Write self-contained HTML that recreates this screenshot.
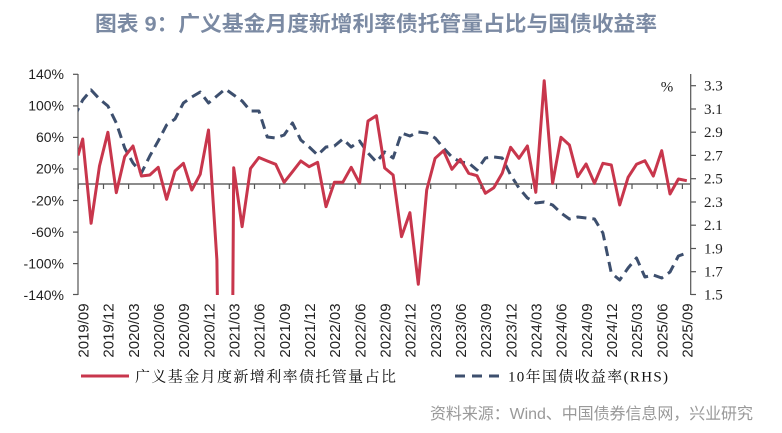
<!DOCTYPE html>
<html><head><meta charset="utf-8">
<style>
html,body{margin:0;padding:0;background:#fff;}
body{width:782px;height:433px;overflow:hidden;position:relative;}
svg{position:absolute;left:0;top:0;}
</style></head>
<body>
<svg width="782" height="433" viewBox="0 0 782 433" xmlns="http://www.w3.org/2000/svg">
<rect width="782" height="433" fill="#fff"/>
<text x="95" y="31" font-family="'Liberation Sans','Noto Sans CJK SC',sans-serif" font-size="21" font-weight="bold" fill="#7B8AA3" textLength="562" lengthAdjust="spacingAndGlyphs">图表 9：广义基金月度新增利率债托管量占比与国债收益率</text>
<defs><clipPath id="pc"><rect x="78" y="73" width="613" height="222"/></clipPath></defs>
<!-- left axis -->
<g stroke="#555" stroke-width="1.2" fill="none">
<line x1="78" y1="74" x2="78" y2="295"/>
<line x1="73" y1="74.3" x2="78" y2="74.3"/>
<line x1="73" y1="105.9" x2="78" y2="105.9"/>
<line x1="73" y1="137.4" x2="78" y2="137.4"/>
<line x1="73" y1="169" x2="78" y2="169"/>
<line x1="73" y1="200.5" x2="78" y2="200.5"/>
<line x1="73" y1="232.1" x2="78" y2="232.1"/>
<line x1="73" y1="263.6" x2="78" y2="263.6"/>
<line x1="73" y1="294.5" x2="78" y2="294.5"/>
<!-- right axis -->
<line x1="690.7" y1="74" x2="690.7" y2="295"/>
<line x1="691" y1="85.7" x2="696" y2="85.7"/>
<line x1="691" y1="109" x2="696" y2="109"/>
<line x1="691" y1="132.2" x2="696" y2="132.2"/>
<line x1="691" y1="155.4" x2="696" y2="155.4"/>
<line x1="691" y1="178.7" x2="696" y2="178.7"/>
<line x1="691" y1="202" x2="696" y2="202"/>
<line x1="691" y1="225.2" x2="696" y2="225.2"/>
<line x1="691" y1="248.5" x2="696" y2="248.5"/>
<line x1="691" y1="271.7" x2="696" y2="271.7"/>
<line x1="691" y1="294.5" x2="696" y2="294.5"/>
</g>
<g font-family="'Liberation Sans',sans-serif" font-size="14" fill="#222" text-anchor="end">
<text x="64" y="79">140%</text>
<text x="64" y="110.6">100%</text>
<text x="64" y="142.1">60%</text>
<text x="64" y="173.7">20%</text>
<text x="64" y="205.3">-20%</text>
<text x="64" y="236.9">-60%</text>
<text x="64" y="268.4">-100%</text>
<text x="64" y="300">-140%</text>
</g>
<g font-family="'Liberation Serif',serif" font-size="15" fill="#222">
<text x="704" y="90.7">3.3</text>
<text x="704" y="114">3.1</text>
<text x="704" y="137.2">2.9</text>
<text x="704" y="160.4">2.7</text>
<text x="704" y="183.7">2.5</text>
<text x="704" y="207">2.3</text>
<text x="704" y="230.2">2.1</text>
<text x="704" y="253.5">1.9</text>
<text x="704" y="276.7">1.7</text>
<text x="704" y="299.5">1.5</text>
<text x="667" y="91.5" text-anchor="middle">%</text>
</g>
<!-- series -->
<g clip-path="url(#pc)" fill="none" stroke-linejoin="round">
<polyline stroke="#3D4F6E" stroke-width="3" stroke-dasharray="10 6" points="74.3,117 82.7,100 91.1,90 99.5,99 107.9,106 116.3,123 124.7,148 133.0,163 141.4,173 149.8,156 158.2,141 166.6,125 175.0,119 183.4,103 191.8,97 200.2,92 208.5,103 216.9,96 225.3,89 233.7,95 242.1,101 250.5,111 258.9,111 267.3,137 275.7,138 284.1,135 292.5,123 300.8,140 309.2,147 317.6,155 326.0,147 334.4,146 342.8,139 351.2,147 359.6,141 368.0,153 376.4,162 384.7,152 393.1,158 401.5,133 409.9,136 418.3,132 426.7,133 435.1,138 443.5,148 451.9,157 460.3,162 468.7,163 477.0,170 485.4,158 493.8,157 502.2,158 510.6,175 519.0,188 527.4,198 535.8,203 544.2,202 552.6,205 561.0,213 569.4,219 577.7,217 586.1,218 594.5,219 602.9,233 611.3,273 619.7,280 628.1,268 636.5,258 644.9,277 653.3,275 661.7,278 670.0,272 678.4,256 686.8,253"/>
<line x1="78" y1="184" x2="691" y2="184" stroke="#666" stroke-width="1.5"/>
<polyline stroke="#C8364C" stroke-width="3" points="78,155.5 82.7,139 91.1,223.3 99.5,166 107.9,132.3 116.3,192.7 124.7,156.7 133.0,146 141.4,176 149.8,175 158.2,167.3 166.6,199.3 175.0,171 183.4,163.3 191.8,190 200.2,174.3 208.5,130 216.9,260 217.4,299 232.8,299 233.7,167.7 242.1,226.7 250.5,168.5 258.9,157.5 267.3,161 275.7,164.3 284.1,182.3 292.5,171.7 300.8,161 309.2,166.7 317.6,162.3 326.0,206.7 334.4,182.3 342.8,182.3 351.2,167.3 359.6,183.3 368.0,121 376.4,115.7 384.7,168 393.1,175 401.5,236.7 409.9,212.7 418.3,284.3 426.7,190 435.1,158.3 443.5,150.7 451.9,169.3 460.3,159.3 468.7,173.3 477.0,175.7 485.4,193.3 493.8,187.7 502.2,173.3 510.6,147.3 519.0,158.3 527.4,146 535.8,192.3 544.2,80.7 552.6,183.3 561.0,137.3 569.4,145 577.7,176.7 586.1,164 594.5,183.3 602.9,163.3 611.3,165 619.7,205 628.1,177.3 636.5,164.3 644.9,160.7 653.3,176 661.7,150.7 670.0,194 678.4,179 686.8,180.7"/>
</g>
<!-- x ticks -->
<g stroke="#555" stroke-width="1.2">
<line x1="78.3" y1="184" x2="78.3" y2="189"/><line x1="103.5" y1="184" x2="103.5" y2="189"/><line x1="128.6" y1="184" x2="128.6" y2="189"/><line x1="153.8" y1="184" x2="153.8" y2="189"/><line x1="179" y1="184" x2="179" y2="189"/><line x1="204.2" y1="184" x2="204.2" y2="189"/><line x1="229.3" y1="184" x2="229.3" y2="189"/><line x1="254.5" y1="184" x2="254.5" y2="189"/><line x1="279.7" y1="184" x2="279.7" y2="189"/><line x1="304.8" y1="184" x2="304.8" y2="189"/><line x1="330" y1="184" x2="330" y2="189"/><line x1="355.2" y1="184" x2="355.2" y2="189"/><line x1="380.3" y1="184" x2="380.3" y2="189"/><line x1="405.5" y1="184" x2="405.5" y2="189"/><line x1="430.7" y1="184" x2="430.7" y2="189"/><line x1="455.9" y1="184" x2="455.9" y2="189"/><line x1="481" y1="184" x2="481" y2="189"/><line x1="506.2" y1="184" x2="506.2" y2="189"/><line x1="531.4" y1="184" x2="531.4" y2="189"/><line x1="556.5" y1="184" x2="556.5" y2="189"/><line x1="581.7" y1="184" x2="581.7" y2="189"/><line x1="606.9" y1="184" x2="606.9" y2="189"/><line x1="632" y1="184" x2="632" y2="189"/><line x1="657.2" y1="184" x2="657.2" y2="189"/><line x1="682.4" y1="184" x2="682.4" y2="189"/>
</g>
<!-- x labels -->
<g font-family="'Liberation Sans',sans-serif" font-size="15" fill="#222" text-anchor="middle">
<text transform="translate(88.5,330.5) rotate(-90)">2019/09</text>
<text transform="translate(113.7,330.5) rotate(-90)">2019/12</text>
<text transform="translate(138.8,330.5) rotate(-90)">2020/03</text>
<text transform="translate(164,330.5) rotate(-90)">2020/06</text>
<text transform="translate(189.2,330.5) rotate(-90)">2020/09</text>
<text transform="translate(214.4,330.5) rotate(-90)">2020/12</text>
<text transform="translate(239.5,330.5) rotate(-90)">2021/03</text>
<text transform="translate(264.7,330.5) rotate(-90)">2021/06</text>
<text transform="translate(289.9,330.5) rotate(-90)">2021/09</text>
<text transform="translate(315,330.5) rotate(-90)">2021/12</text>
<text transform="translate(340.2,330.5) rotate(-90)">2022/03</text>
<text transform="translate(365.4,330.5) rotate(-90)">2022/06</text>
<text transform="translate(390.5,330.5) rotate(-90)">2022/09</text>
<text transform="translate(415.7,330.5) rotate(-90)">2022/12</text>
<text transform="translate(440.9,330.5) rotate(-90)">2023/03</text>
<text transform="translate(466.1,330.5) rotate(-90)">2023/06</text>
<text transform="translate(491.2,330.5) rotate(-90)">2023/09</text>
<text transform="translate(516.4,330.5) rotate(-90)">2023/12</text>
<text transform="translate(541.6,330.5) rotate(-90)">2024/03</text>
<text transform="translate(566.7,330.5) rotate(-90)">2024/06</text>
<text transform="translate(591.9,330.5) rotate(-90)">2024/09</text>
<text transform="translate(617.1,330.5) rotate(-90)">2024/12</text>
<text transform="translate(642.2,330.5) rotate(-90)">2025/03</text>
<text transform="translate(667.4,330.5) rotate(-90)">2025/06</text>
<text transform="translate(692.6,330.5) rotate(-90)">2025/09</text>
</g>
<!-- legend -->
<line x1="81" y1="376" x2="129" y2="376" stroke="#C8364C" stroke-width="3"/>
<text x="135" y="381.5" font-family="'Liberation Serif','Noto Serif CJK SC',serif" font-size="15" fill="#111" textLength="261" lengthAdjust="spacing">广义基金月度新增利率债托管量占比</text>
<line x1="455" y1="376" x2="503" y2="376" stroke="#3D4F6E" stroke-width="3" stroke-dasharray="10 7"/>
<text x="508" y="381.5" font-family="'Liberation Serif','Noto Serif CJK SC',serif" font-size="15" fill="#111" textLength="160" lengthAdjust="spacing">10年国债收益率(RHS)</text>
<text x="430" y="419" font-family="'Liberation Sans','Noto Sans CJK SC',sans-serif" font-size="16" fill="#999" textLength="323" lengthAdjust="spacing">资料来源：Wind、中国债券信息网，兴业研究</text>
</svg>
</body></html>
